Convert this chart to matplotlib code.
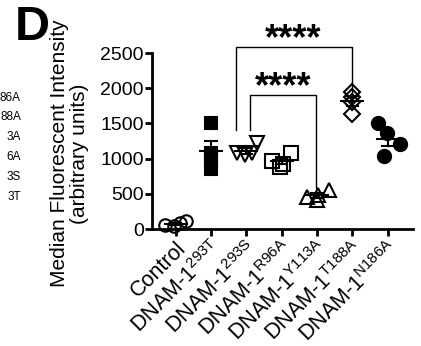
import matplotlib
matplotlib.use("Agg")
import matplotlib.pyplot as plt
import numpy as np

plt.rcParams['font.family'] = ['Liberation Sans', 'DejaVu Sans']
plt.rcParams['mathtext.fontset'] = 'custom'
plt.rcParams['mathtext.rm'] = 'Liberation Sans'
plt.rcParams['mathtext.it'] = 'Liberation Sans'

# ---- data ----
categories = ["Control", "293T", "293S", "R96A", "Y113A", "T188A", "N186A"]
tick_labels = ["Control",
               r"DNAM-1$^{\mathrm{293T}}$",
               r"DNAM-1$^{\mathrm{293S}}$",
               r"DNAM-1$^{\mathrm{R96A}}$",
               r"DNAM-1$^{\mathrm{Y113A}}$",
               r"DNAM-1$^{\mathrm{T188A}}$",
               r"DNAM-1$^{\mathrm{N186A}}$"]
control = [60, 40, 90, 110]
dnam_293T = [1500, 1080, 980, 850]
dnam_293S = [1080, 1050, 1080, 1220]
dnam_R96A = [970, 885, 930, 1080]
dnam_Y113A = [460, 410, 480, 560]
dnam_T188A = [1950, 1880, 1800, 1640]
dnam_N186A = [1500, 1358, 1206, 1036]
groups = [control, dnam_293T, dnam_293S, dnam_R96A, dnam_Y113A, dnam_T188A, dnam_N186A]
yticks = [0, 500, 1000, 1500, 2000, 2500]
legend_fragments = ["86A", "88A", "3A", "6A", "3S", "3T"]

# ---- styles / positions (not data) ----
jitter = [[-0.3, -0.05, 0.12, 0.3],
          [0.0, 0.0, 0.0, 0.0],
          [-0.27, -0.04, 0.15, 0.29],
          [-0.28, -0.05, 0.04, 0.27],
          [-0.29, 0.0, 0.02, 0.33],
          [0.0, 0.0, 0.0, 0.0],
          [-0.26, -0.02, 0.36, -0.11]]
markers = ['o', 's', 'v', 's', '^', 'D', 'o']
filled = [False, True, False, False, False, False, True]
msizes = [9, 9, 10, 10, 10, 8, 9.5]

fig = plt.figure(figsize=(4.21, 3.46), dpi=100)
ax = fig.add_axes([152/421, 1-229/346, (413-152)/421, (229-53)/346])

for i, vals in enumerate(groups):
    xs = i + np.array(jitter[i])
    for x, v in zip(xs, vals):
        ax.plot(x, v, marker=markers[i], ms=msizes[i], mew=1.5,
                mec='black', mfc='black' if filled[i] else 'none',
                ls='none', clip_on=False, zorder=3)
    m = np.mean(vals)
    sem = np.std(vals, ddof=1) / np.sqrt(len(vals))
    ax.plot([i - 0.31, i + 0.31], [m, m], color='black', lw=1.5, zorder=4, clip_on=False)
    ax.plot([i, i], [m - sem, m + sem], color='black', lw=1.5, zorder=4, clip_on=False)
    for y in (m - sem, m + sem):
        ax.plot([i - 0.16, i + 0.16], [y, y], color='black', lw=1.5, zorder=4, clip_on=False)

# significance brackets
ax.plot([1.71, 1.71, 5.0, 5.0], [1400, 2580, 2580, 1930], color='black', lw=1.0, clip_on=False)
ax.text(3.33, 2550, "****", ha='center', va='baseline', fontsize=26, fontweight='bold')
ax.plot([2.11, 2.11, 3.96, 3.96], [1400, 1900, 1900, 580], color='black', lw=1.0, clip_on=False)
ax.text(3.05, 1870, "****", ha='center', va='baseline', fontsize=26, fontweight='bold')

ax.set_xlim(-0.67, 6.72)
ax.set_ylim(0, 2500)
ax.set_yticks(yticks)
ax.set_yticklabels([str(t) for t in yticks], fontsize=14)
ax.set_xticks(range(len(categories)))
ax.set_xticklabels(tick_labels, rotation=45, ha='right', va='top',
                   rotation_mode='anchor', fontsize=15.5)
for s in ['top', 'right']:
    ax.spines[s].set_visible(False)
for s in ['left', 'bottom']:
    ax.spines[s].set_linewidth(2)
ax.tick_params(axis='both', width=2, length=5, pad=1)
ax.set_ylabel("Median Fluorescent Intensity\n(arbitrary units)", fontsize=15, linespacing=1.1)
ax.yaxis.set_label_coords(-0.24, 0.43)

fig.text(15/421, 1-28/346, "D", fontsize=35, fontweight='bold', ha='left', va='center')

ys = [98, 117, 137, 157, 177, 197]
for lab, y in zip(legend_fragments, ys):
    fig.text(21/421, 1-y/346, lab, fontsize=8.5, ha='right', va='center')

fig.savefig("out.png", dpi=100)
